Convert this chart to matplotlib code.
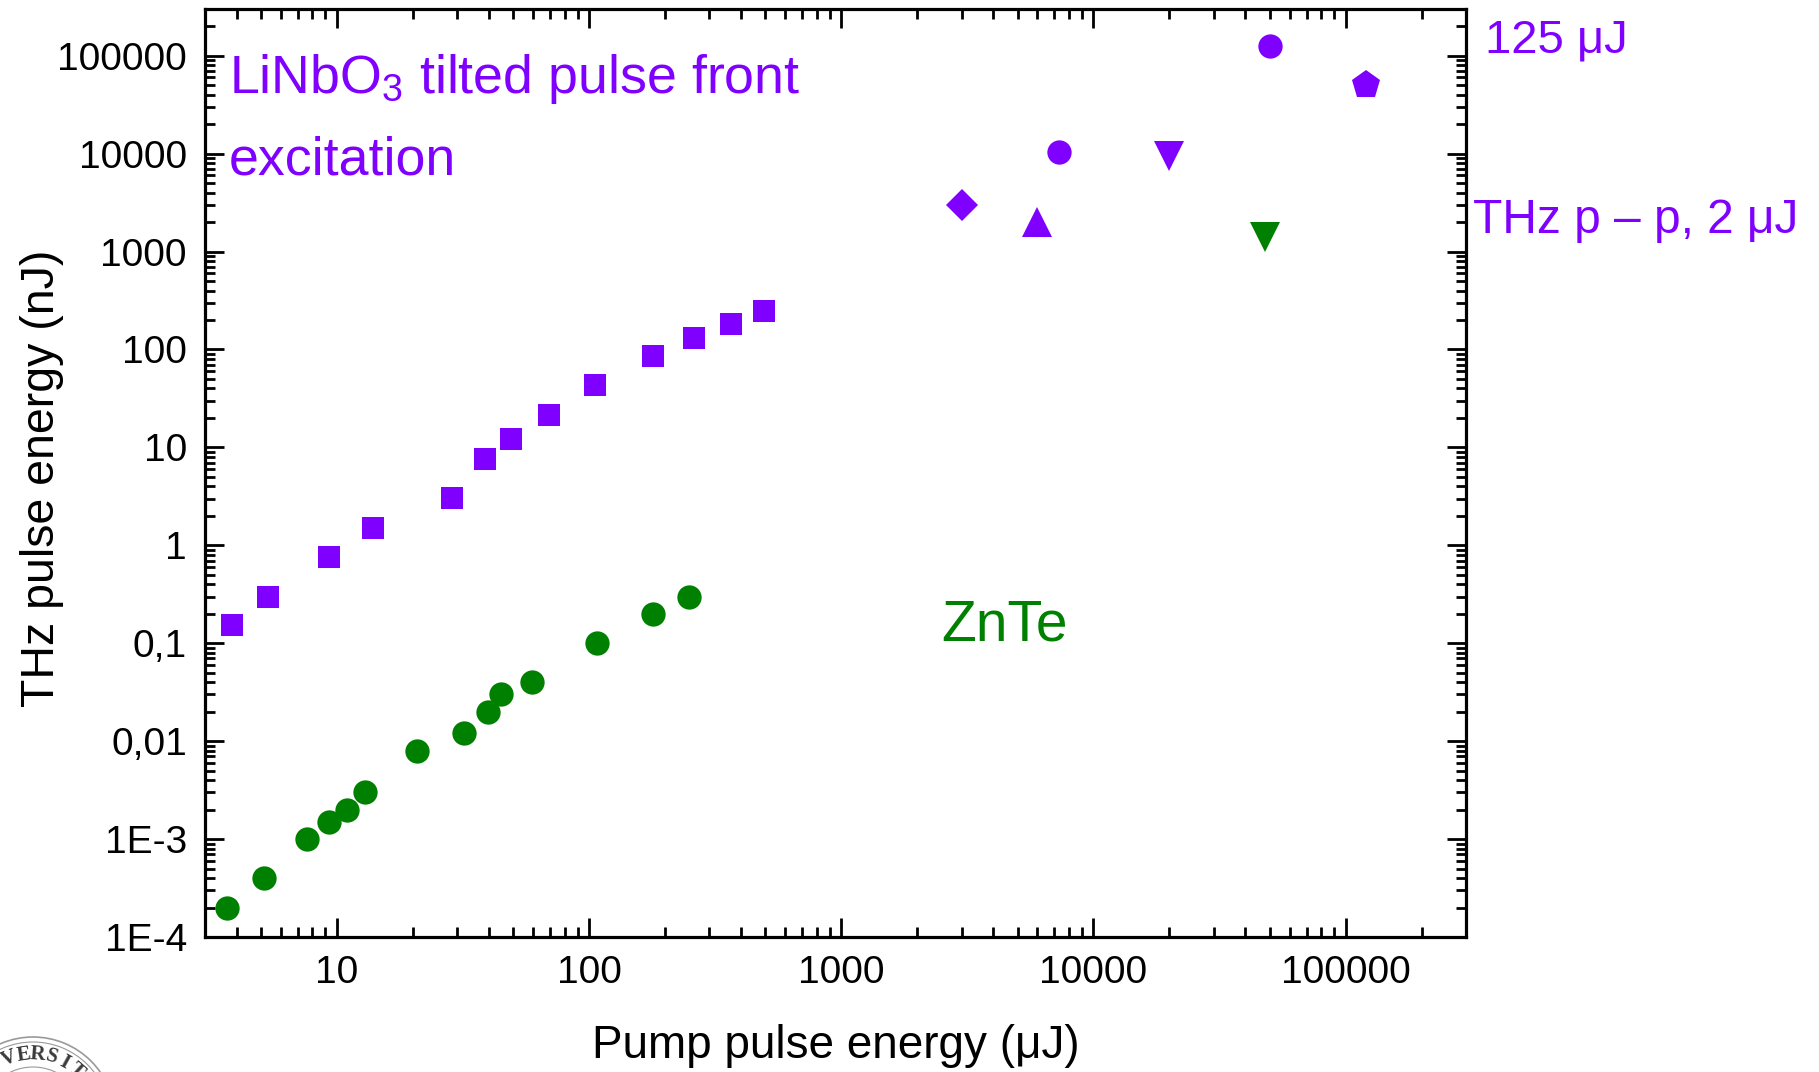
import numpy as np
import matplotlib
matplotlib.use('Agg')
import matplotlib.pyplot as plt
from matplotlib.patches import Arc
from matplotlib.ticker import FixedLocator, FixedFormatter, LogLocator, NullFormatter

plt.rcParams['font.family'] = ['Liberation Sans', 'DejaVu Sans']
plt.rcParams['mathtext.fontset'] = 'custom'
plt.rcParams['mathtext.rm'] = 'Liberation Sans'

PURPLE = '#8000ff'
GREEN = '#008000'

# LiNbO3, tilted pulse front (squares)
lnb_pump = [3.85, 5.35, 9.3, 13.9, 28.6, 38.8, 49, 69.5, 106, 179, 261, 367, 493]
lnb_thz = [0.152, 0.30, 0.76, 1.5, 3.06, 7.7, 12.3, 21.2, 43, 85, 132, 183, 247]

# ZnTe (circles)
znte_pump = [3.66, 5.13, 7.6, 9.3, 11.0, 12.9, 20.8, 31.8, 39.6, 44.6, 59.3, 108, 179, 248]
znte_thz = [2.0e-4, 4.0e-4, 1.0e-3, 1.5e-3, 2.0e-3, 3.0e-3, 8.0e-3, 0.012, 0.020, 0.030,
            0.040, 0.10, 0.20, 0.30]

# single high energy results from other groups
diamond_pump, diamond_thz = [3000], [3000]
tri_up_pump, tri_up_thz = [6000], [2000]
circ_pump, circ_thz = [7300, 50000], [10400, 125000]
tri_dn_pump, tri_dn_thz = [20000], [9500]
penta_pump, penta_thz = [121000], [50600]
znte_tri_pump, znte_tri_thz = [48000], [1420]

x_ticks = [10, 100, 1000, 10000, 100000]
x_labels = ['10', '100', '1000', '10000', '100000']
y_ticks = [1e-4, 1e-3, 1e-2, 1e-1, 1, 10, 100, 1000, 10000, 100000]
y_labels = ['1E-4', '1E-3', '0,01', '0,1', '1', '10', '100', '1000', '10000', '100000']

fig = plt.figure(figsize=(18.19, 10.72), dpi=100)
ax = fig.add_axes([0.1127, 0.1259, 0.6932, 0.8657])

ax.plot(lnb_pump, lnb_thz, 's', color=PURPLE, ms=16, mew=0)
ax.plot(znte_pump, znte_thz, 'o', color=GREEN, ms=17.5, mew=0)
ax.plot(diamond_pump, diamond_thz, 'D', color=PURPLE, ms=16, mew=0)
ax.plot(tri_up_pump, tri_up_thz, '^', color=PURPLE, ms=21, mew=0)
ax.plot(circ_pump, circ_thz, 'o', color=PURPLE, ms=17.5, mew=0)
ax.plot(tri_dn_pump, tri_dn_thz, 'v', color=PURPLE, ms=21, mew=0)
ax.plot(penta_pump, penta_thz, 'p', color=PURPLE, ms=21, mew=0)
ax.plot(znte_tri_pump, znte_tri_thz, 'v', color=GREEN, ms=21, mew=0)

ax.set_xscale('log')
ax.set_yscale('log')
ax.set_xlim(3, 3e5)
ax.set_ylim(1e-4, 3e5)

ax.xaxis.set_major_locator(FixedLocator(x_ticks))
ax.xaxis.set_major_formatter(FixedFormatter(x_labels))
ax.yaxis.set_major_locator(FixedLocator(y_ticks))
ax.yaxis.set_major_formatter(FixedFormatter(y_labels))
for axis in (ax.xaxis, ax.yaxis):
    axis.set_minor_locator(LogLocator(base=10, subs=np.arange(2, 10), numticks=20))
    axis.set_minor_formatter(NullFormatter())

ax.tick_params(which='both', direction='in', top=True, right=True, width=2.0,
               labelsize=28, pad=13)
ax.tick_params(which='major', length=14)
ax.tick_params(which='minor', length=7)
for s in ax.spines.values():
    s.set_linewidth(2.3)

ax.set_xlabel('Pump pulse energy (\u03bcJ)', fontsize=33, labelpad=24)
ax.set_ylabel('THz pulse energy (nJ)', fontsize=33.5)
ax.yaxis.set_label_coords(-0.112, 0.494)

# annotations
ax.text(0.019, 0.9095, r'LiNbO$_\mathrm{3}$ tilted pulse front', transform=ax.transAxes,
        color=PURPLE, fontsize=38.7, va='baseline')
ax.text(0.019, 0.822, 'excitation', transform=ax.transAxes,
        color=PURPLE, fontsize=38.7, va='baseline')
ax.text(0.584, 0.320, 'ZnTe', transform=ax.transAxes,
        color=GREEN, fontsize=41, va='baseline')
ax.text(1.015, 0.9526, '125 \u03bcJ', transform=ax.transAxes,
        color=PURPLE, fontsize=34, va='baseline', clip_on=False)
ax.text(1.0056, 0.7586, 'THz p \u2013 p, 2 \u03bcJ', transform=ax.transAxes,
        color=PURPLE, fontsize=34.5, va='baseline', clip_on=False)

# university seal, cut by the lower left corner
W, H = 1819.0, 1072.0
cx, cy, R = 33.0, 1119.0, 82.0
for r, lw in ((R, 1.2), (R - 5, 0.8), (R - 30, 0.8)):
    fig.add_artist(Arc((cx / W, 1 - cy / H), 2 * r / W, 2 * r / H,
                       transform=fig.transFigure, color='#9a9a9a', lw=lw))
letters = 'UNIVERSITAS'
for i, ch in enumerate(letters):
    ang = 149 - 12.6 * i
    rr = R - 17
    px = cx + rr * np.cos(np.radians(ang))
    py = cy - rr * np.sin(np.radians(ang))
    if px < 2 or py > H:
        continue
    fig.text(px / W, 1 - py / H, ch, rotation=ang - 90, ha='center', va='center',
             fontsize=15, family='Liberation Serif', weight='bold', color='#3a3a3a',
             rotation_mode='anchor')

fig.savefig('out.png', dpi=100)
